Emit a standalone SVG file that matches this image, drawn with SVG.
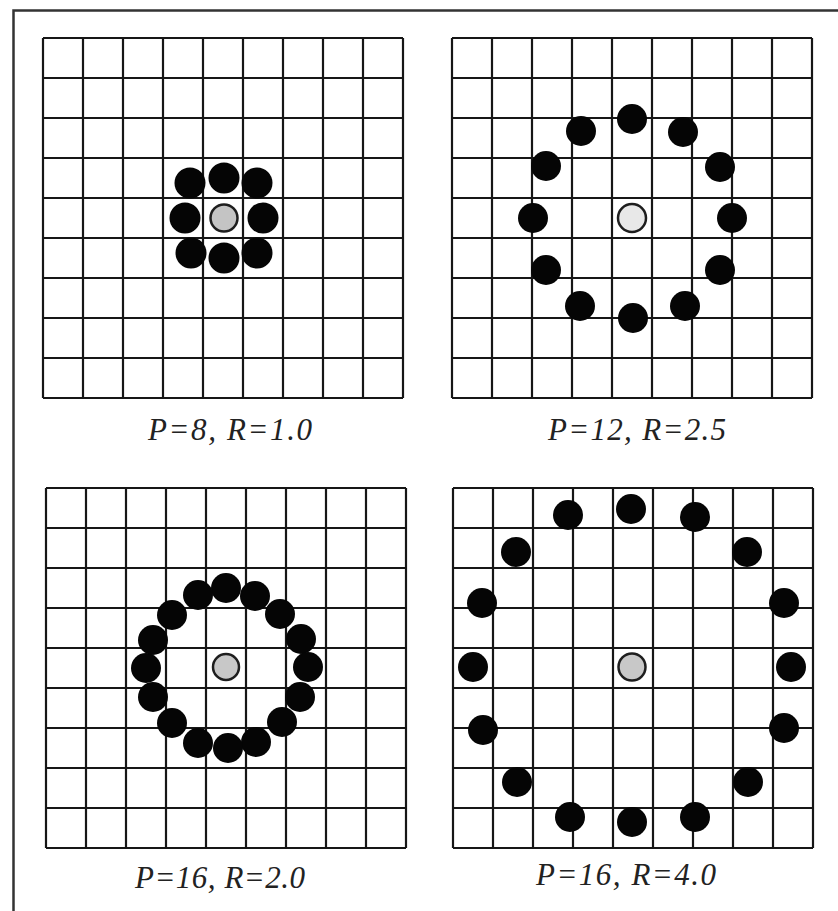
<svg xmlns="http://www.w3.org/2000/svg" xmlns:xlink="http://www.w3.org/1999/xlink" width="838" height="911" viewBox="0 0 838 911">
<style>
.grid{fill:none;stroke:#161616;stroke-width:2.2}
.dot{fill:#050505}
.ctr{stroke:#1e1e1e;stroke-width:2.5}
.lbl{font-family:"Liberation Serif","Times New Roman",serif;font-style:italic;font-size:31px;fill:#222;text-anchor:middle}
.frame{fill:none;stroke:#333;stroke-width:2.5}
</style>
<defs>
<path id="g" class="grid" d="M0,0H360M0,40H360M0,80H360M0,120H360M0,160H360M0,200H360M0,240H360M0,280H360M0,320H360M0,360H360M0,0V360M40,0V360M80,0V360M120,0V360M160,0V360M200,0V360M240,0V360M280,0V360M320,0V360M360,0V360"/>
</defs>
<rect width="838" height="911" fill="#fff"/>
<path class="frame" d="M13.5,911V10.5H838"/>
<g id="connectors"/>
<g id="panel1" transform="translate(43,38)">
<use xlink:href="#g" href="#g"/>
<circle class="ctr" cx="181" cy="180" r="13.5" fill="#c4c4c4"/>
<g class="dot">
<circle cx="181" cy="140" r="15.5"/><circle cx="214" cy="145" r="15.5"/><circle cx="220" cy="180" r="15.5"/><circle cx="214" cy="215" r="15.5"/>
<circle cx="181" cy="220" r="15.5"/><circle cx="148" cy="215" r="15.5"/><circle cx="142" cy="180" r="15.5"/><circle cx="147" cy="145" r="15.5"/>
</g>
</g>
<g id="panel2" transform="translate(452,38)">
<use xlink:href="#g" href="#g"/>
<circle class="ctr" cx="180" cy="180" r="14" fill="#e8e8e8"/>
<g class="dot">
<circle cx="180" cy="81" r="15"/><circle cx="231" cy="94" r="15"/><circle cx="268" cy="129" r="15"/><circle cx="280" cy="180" r="15"/>
<circle cx="268" cy="232" r="15"/><circle cx="233" cy="268" r="15"/><circle cx="181" cy="280" r="15"/><circle cx="128" cy="268" r="15"/>
<circle cx="94" cy="232" r="15"/><circle cx="81" cy="180" r="15"/><circle cx="94" cy="128" r="15"/><circle cx="129" cy="93" r="15"/>
</g>
</g>
<g id="panel3" transform="translate(46,488)">
<use xlink:href="#g" href="#g"/>
<circle class="ctr" cx="180" cy="179" r="13" fill="#c8c8c8"/>
<g class="dot">
<circle cx="180" cy="100" r="15"/><circle cx="209" cy="108" r="15"/><circle cx="234" cy="126" r="15"/><circle cx="255" cy="151" r="15"/>
<circle cx="262" cy="179" r="15"/><circle cx="254" cy="209" r="15"/><circle cx="236" cy="234" r="15"/><circle cx="210" cy="254" r="15"/>
<circle cx="182" cy="260" r="15"/><circle cx="152" cy="255" r="15"/><circle cx="126" cy="235" r="15"/><circle cx="107" cy="209" r="15"/>
<circle cx="100" cy="180" r="15"/><circle cx="107" cy="152" r="15"/><circle cx="126" cy="127" r="15"/><circle cx="152" cy="107" r="15"/>
</g>
</g>
<g id="panel4" transform="translate(453,488)">
<use xlink:href="#g" href="#g"/>
<circle class="ctr" cx="179" cy="179" r="13.5" fill="#c8c8c8"/>
<g class="dot">
<circle cx="178" cy="21" r="15"/><circle cx="242" cy="29" r="15"/><circle cx="294" cy="64" r="15"/><circle cx="331" cy="115" r="15"/>
<circle cx="338" cy="179" r="15"/><circle cx="331" cy="240" r="15"/><circle cx="295" cy="294" r="15"/><circle cx="242" cy="329" r="15"/>
<circle cx="179" cy="334" r="15"/><circle cx="117" cy="329" r="15"/><circle cx="64" cy="294" r="15"/><circle cx="30" cy="242" r="15"/>
<circle cx="20" cy="179" r="15"/><circle cx="29" cy="115" r="15"/><circle cx="63" cy="64" r="15"/><circle cx="115" cy="27" r="15"/>
</g>
</g>
<g id="labels">
<text class="lbl" x="230" y="440" textLength="164" lengthAdjust="spacing">P=8, R=1.0</text>
<text class="lbl" x="637" y="440" textLength="178" lengthAdjust="spacing">P=12, R=2.5</text>
<text class="lbl" x="220" y="888" textLength="170" lengthAdjust="spacing">P=16, R=2.0</text>
<text class="lbl" x="626" y="885" textLength="180" lengthAdjust="spacing">P=16, R=4.0</text>
</g>
</svg>
